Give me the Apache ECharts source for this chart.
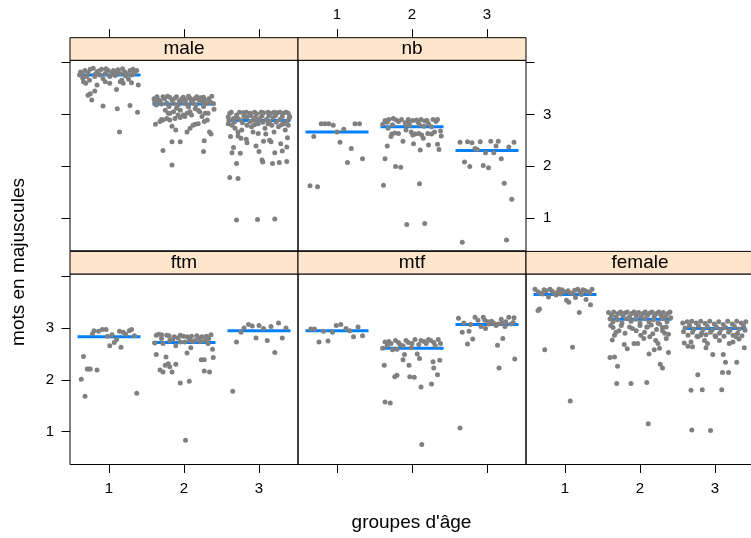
<!DOCTYPE html>
<html><head><meta charset="utf-8">
<script src="https://cdn.jsdelivr.net/npm/echarts@6/dist/echarts.min.js"></script>
<style>html,body{margin:0;padding:0;background:#fff}#c{width:751px;height:538px}</style>
</head><body><div id="c"></div>
<script>
const panelNames = ['male','nb','ftm','mtf','female'];
const categories = [1,2,3];
const yTicks = [1,2,3,4];
const yTickLabels = [1,2,3];
const xTicks = [1,2,3];
const xTitle = "groupes d'âge";
const yTitle = "mots en majuscules";

const meanMale = [3.76,3.20,2.88];
const meanNb = [2.66,2.76,2.30];
const meanFtm = [2.83,2.72,2.95];
const meanMtf = [2.95,2.61,3.07];
const meanFemale = [3.65,3.17,2.99];

// [horizontal jitter, value]
const male1 = [[-0.36,3.79],[-0.32,3.85],[-0.25,3.87],[-0.21,3.89],[-0.16,3.82],[-0.10,3.87],[-0.05,3.79],[-0.01,3.85],[0.06,3.85],[0.10,3.82],[0.15,3.79],[0.21,3.82],[0.28,3.85],[0.32,3.87],[0.37,3.85],[-0.39,3.76],[-0.30,3.73],[-0.19,3.73],[-0.12,3.76],[-0.08,3.69],[0.01,3.73],[0.17,3.66],[0.30,3.76],[-0.34,3.63],[-0.31,3.60],[-0.16,3.57],[-0.05,3.63],[0.01,3.60],[0.15,3.63],[0.19,3.60],[0.30,3.61],[0.39,3.57],[-0.25,3.40],[-0.19,3.45],[-0.23,3.28],[-0.28,3.37],[-0.08,3.16],[0.10,3.48],[0.11,3.11],[0.28,3.17],[0.38,3.04],[0.14,2.66],[-0.38,3.82],[-0.28,3.80],[-0.14,3.84],[0.04,3.80],[0.12,3.86],[0.24,3.78],[0.34,3.80],[-0.18,3.78],[0.08,3.75],[0.22,3.74],[-0.35,3.70],[-0.26,3.66],[0.26,3.68],[-0.04,3.88],[0.18,3.88]];
const male2 = [[-0.37,3.18],[-0.34,3.28],[-0.28,3.34],[-0.19,3.33],[-0.10,3.34],[-0.01,3.33],[0.08,3.31],[0.17,3.34],[0.26,3.33],[0.37,3.35],[0.39,3.21],[-0.39,3.24],[-0.23,3.22],[-0.14,3.21],[0.04,3.19],[0.12,3.22],[0.24,3.24],[0.30,3.21],[-0.25,3.08],[-0.19,3.02],[-0.21,3.02],[-0.14,3.05],[-0.05,3.08],[-0.01,2.99],[0.04,3.02],[0.08,3.05],[0.15,3.11],[0.19,3.08],[0.26,3.15],[0.28,3.02],[0.32,3.02],[0.40,3.10],[-0.38,2.81],[-0.32,2.86],[-0.28,2.89],[-0.23,2.92],[-0.19,2.89],[-0.16,2.77],[-0.12,2.92],[-0.11,2.70],[-0.05,2.94],[0.01,2.96],[0.04,2.66],[0.08,2.73],[0.12,2.79],[0.15,2.81],[0.19,2.82],[0.21,3.05],[0.27,2.86],[0.31,2.89],[0.34,2.66],[0.36,2.62],[0.27,2.49],[0.26,2.28],[-0.16,2.47],[-0.05,2.47],[-0.28,2.30],[-0.16,2.02],[-0.30,2.90],[-0.08,2.99],[0.10,2.99],[0.24,2.96],[-0.40,3.30],[-0.32,3.26],[-0.26,3.30],[-0.22,3.35],[-0.16,3.28],[-0.12,3.31],[-0.06,3.26],[-0.03,3.30],[0.02,3.28],[0.06,3.35],[0.10,3.26],[0.14,3.30],[0.20,3.28],[0.22,3.32],[0.28,3.27],[0.33,3.30],[0.35,3.24],[-0.36,3.34],[-0.30,3.20],[-0.08,3.18],[0.00,3.22],[0.16,3.18],[-0.20,3.15],[0.06,3.14],[-0.10,3.12]];
const male3 = [[-0.39,3.02],[-0.30,2.99],[-0.21,3.03],[-0.12,3.02],[-0.03,3.01],[0.06,3.03],[0.15,3.02],[0.24,3.03],[0.32,3.02],[0.39,3.02],[-0.34,2.92],[-0.25,2.89],[-0.16,2.95],[-0.08,2.89],[0.01,2.92],[0.10,2.90],[0.19,2.94],[0.28,2.90],[0.37,2.86],[-0.36,2.79],[-0.32,2.73],[-0.28,2.66],[-0.23,2.70],[-0.16,2.79],[-0.10,2.76],[-0.01,2.82],[0.08,2.73],[0.17,2.79],[0.26,2.76],[0.35,2.70],[0.39,2.79],[-0.38,2.57],[-0.34,2.36],[-0.36,2.26],[-0.28,2.58],[-0.24,2.54],[-0.17,2.52],[-0.16,2.45],[-0.08,2.66],[-0.04,2.39],[-0.01,2.63],[0.00,2.28],[0.06,2.48],[0.09,2.62],[0.14,2.50],[0.16,2.47],[0.20,2.66],[0.21,2.26],[0.29,2.43],[0.31,2.29],[0.38,2.55],[0.37,2.37],[-0.25,2.25],[-0.30,2.05],[0.04,2.12],[0.05,2.08],[0.18,2.05],[0.27,2.07],[0.37,2.09],[-0.39,1.78],[-0.28,1.76],[-0.30,0.96],[-0.02,0.97],[0.21,0.98],[-0.41,2.95],[-0.37,3.04],[-0.26,3.04],[-0.17,3.04],[-0.06,3.04],[0.03,3.04],[0.12,3.04],[0.20,3.04],[0.28,3.04],[0.36,3.04],[0.41,2.96],[-0.40,2.88],[-0.29,2.94],[-0.20,2.96],[-0.11,2.98],[-0.05,2.94],[0.04,2.97],[0.13,2.97],[0.22,2.98],[0.31,2.96],[0.40,2.92],[-0.33,2.85],[-0.22,2.84],[-0.12,2.86],[-0.03,2.87],[0.05,2.85],[0.14,2.86],[0.23,2.85],[0.33,2.82],[-0.41,2.82],[-0.06,2.80],[0.12,2.82],[0.30,2.80]];

const nb1 = [[-0.21,2.82],[-0.16,2.82],[-0.11,2.82],[-0.05,2.79],[0.00,2.66],[0.09,2.71],[0.24,2.82],[0.30,2.82],[-0.31,2.57],[0.04,2.46],[0.19,2.34],[0.14,2.07],[0.34,2.14],[-0.36,1.62],[-0.26,1.60]];
const nb2 = [[-0.39,2.81],[-0.36,2.88],[-0.31,2.90],[-0.25,2.92],[-0.21,2.89],[-0.14,2.90],[-0.09,2.84],[-0.04,2.86],[0.01,2.88],[0.06,2.89],[0.12,2.90],[0.17,2.87],[0.22,2.82],[0.28,2.90],[0.34,2.90],[-0.32,2.73],[-0.27,2.62],[-0.28,2.57],[-0.23,2.64],[-0.18,2.63],[-0.08,2.70],[-0.01,2.66],[0.04,2.62],[0.01,2.60],[0.09,2.63],[0.15,2.54],[0.13,2.60],[0.21,2.63],[0.26,2.62],[0.30,2.66],[0.38,2.68],[0.39,2.58],[-0.12,2.48],[0.02,2.43],[0.11,2.31],[0.22,2.41],[0.34,2.42],[0.36,2.32],[-0.33,2.39],[-0.36,2.14],[-0.22,1.99],[-0.15,1.98],[-0.38,1.63],[0.10,1.66],[-0.07,0.87],[0.17,0.89],[-0.08,2.79],[-0.03,2.79],[0.26,2.76],[0.16,2.77],[-0.33,2.85],[-0.18,2.86],[-0.05,2.90],[0.08,2.85],[0.20,2.88],[0.32,2.86],[-0.26,2.80],[0.10,2.80]];
const nb3 = [[-0.36,2.46],[-0.26,2.47],[-0.20,2.45],[-0.09,2.47],[0.05,2.48],[0.15,2.48],[0.36,2.46],[-0.16,2.34],[-0.13,2.32],[-0.02,2.26],[0.09,2.26],[0.12,2.39],[0.29,2.37],[-0.30,2.08],[-0.23,1.99],[-0.05,2.01],[0.02,1.97],[0.19,2.14],[0.23,1.67],[0.33,1.36],[-0.33,0.53],[0.26,0.57]];

const ftm1 = [[-0.22,2.89],[-0.20,2.95],[-0.14,2.94],[-0.09,2.97],[-0.04,2.97],[-0.02,2.84],[0.04,2.87],[0.10,2.78],[0.14,2.94],[0.19,2.92],[0.22,2.88],[0.27,2.95],[0.30,2.97],[0.34,2.85],[0.01,2.66],[0.07,2.72],[0.16,2.63],[-0.34,2.45],[-0.29,2.21],[-0.25,2.21],[-0.27,2.21],[-0.16,2.19],[-0.37,2.01],[-0.32,1.68],[0.37,1.74]];
const ftm2 = [[-0.37,2.86],[-0.34,2.88],[-0.30,2.87],[-0.23,2.86],[-0.13,2.83],[-0.08,2.81],[-0.01,2.84],[0.04,2.83],[0.10,2.84],[0.17,2.85],[0.24,2.83],[0.30,2.84],[0.36,2.87],[-0.39,2.71],[-0.28,2.70],[-0.19,2.76],[-0.11,2.66],[-0.05,2.73],[0.01,2.73],[0.08,2.76],[0.15,2.76],[0.22,2.74],[0.28,2.76],[0.32,2.70],[-0.37,2.49],[-0.24,2.44],[-0.32,2.19],[-0.28,2.15],[-0.25,2.28],[-0.21,2.31],[-0.19,2.25],[-0.16,2.15],[-0.11,2.30],[0.04,2.52],[0.09,2.62],[0.23,2.39],[0.27,2.39],[0.27,2.17],[0.34,2.15],[0.38,2.59],[0.39,2.43],[-0.05,1.94],[0.07,1.97],[0.02,0.83],[-0.20,2.85],[-0.05,2.86],[0.07,2.80],[0.20,2.81],[0.33,2.80],[-0.30,2.80],[0.12,2.74],[-0.15,2.78]];
const ftm3 = [[-0.24,2.92],[-0.20,3.00],[-0.14,3.07],[-0.09,3.04],[0.00,3.05],[0.06,2.99],[0.16,3.03],[0.26,3.10],[0.36,3.00],[-0.30,2.73],[-0.04,2.81],[0.11,2.76],[0.31,2.81],[0.21,2.53],[-0.35,1.78]];

const mtf1 = [[-0.35,2.98],[-0.30,2.98],[-0.18,2.94],[-0.06,2.92],[-0.01,3.05],[0.05,3.07],[0.12,2.99],[0.17,2.95],[0.28,3.02],[0.22,2.83],[0.34,2.85],[-0.24,2.73],[-0.12,2.75]];
const mtf2 = [[-0.36,2.73],[-0.31,2.74],[-0.22,2.76],[-0.16,2.68],[-0.08,2.76],[0.04,2.78],[0.16,2.74],[0.22,2.78],[0.35,2.78],[-0.39,2.61],[-0.33,2.66],[-0.26,2.58],[-0.20,2.59],[-0.12,2.66],[-0.01,2.62],[0.09,2.68],[0.19,2.70],[0.29,2.72],[0.38,2.70],[-0.10,2.49],[-0.12,2.39],[-0.04,2.28],[0.07,2.50],[0.10,2.41],[0.37,2.38],[0.28,2.35],[0.29,2.23],[0.34,2.10],[-0.37,2.28],[-0.23,2.06],[-0.20,2.09],[-0.03,2.06],[0.03,2.05],[0.12,1.86],[0.26,1.92],[-0.36,1.57],[-0.29,1.55],[0.13,0.75],[-0.28,2.70],[-0.05,2.72],[0.12,2.76],[0.25,2.76],[0.31,2.66],[-0.18,2.72],[0.00,2.70]];
const mtf3 = [[-0.38,3.19],[-0.31,3.10],[-0.22,3.07],[-0.16,3.21],[-0.12,3.15],[-0.05,3.21],[0.01,3.12],[0.06,3.13],[0.10,3.08],[0.19,3.17],[0.24,3.03],[0.29,3.21],[0.35,3.11],[-0.08,3.03],[-0.02,2.99],[0.15,3.08],[-0.33,2.92],[-0.24,2.94],[-0.19,2.79],[-0.26,2.69],[0.14,2.67],[0.21,2.80],[0.37,2.40],[0.16,2.23],[-0.36,1.07],[-0.03,3.15],[0.08,3.10],[0.20,3.10],[0.32,3.08],[0.25,3.12],[0.36,3.20],[0.12,3.05],[0.02,3.08]];

const female1 = [[-0.40,3.75],[-0.32,3.67],[-0.25,3.72],[-0.20,3.75],[-0.14,3.67],[-0.08,3.75],[-0.01,3.70],[0.10,3.67],[0.17,3.75],[0.24,3.74],[0.30,3.70],[0.36,3.75],[-0.22,3.60],[-0.12,3.64],[0.02,3.54],[0.05,3.50],[0.14,3.59],[0.28,3.55],[0.34,3.45],[0.19,3.30],[-0.36,3.34],[-0.34,3.37],[-0.27,2.58],[0.10,2.63],[0.07,1.59],[-0.36,3.70],[-0.28,3.74],[-0.17,3.71],[-0.10,3.69],[-0.04,3.74],[0.04,3.72],[0.07,3.68],[0.13,3.73],[0.20,3.69],[0.27,3.72],[0.33,3.68],[-0.30,3.66],[-0.06,3.66],[0.22,3.65]];
const female2 = [[-0.42,3.30],[-0.38,3.25],[-0.35,3.31],[-0.32,3.22],[-0.29,3.28],[-0.26,3.31],[-0.23,3.24],[-0.20,3.29],[-0.17,3.31],[-0.14,3.22],[-0.11,3.28],[-0.08,3.31],[-0.05,3.25],[-0.02,3.30],[0.01,3.22],[0.04,3.28],[0.07,3.31],[0.10,3.25],[0.13,3.29],[0.16,3.31],[0.19,3.23],[0.22,3.28],[0.25,3.31],[0.28,3.25],[0.31,3.30],[0.34,3.22],[0.37,3.28],[0.40,3.31],[0.41,3.20],[-0.40,3.18],[-0.30,3.16],[-0.18,3.18],[-0.06,3.17],[0.06,3.18],[0.18,3.16],[0.30,3.18],[-0.36,3.12],[-0.24,3.10],[-0.12,3.13],[0.00,3.10],[0.12,3.12],[0.24,3.10],[0.36,3.12],[-0.39,3.05],[-0.10,2.99],[0.10,3.02],[0.30,3.01],[-0.36,3.01],[-0.32,2.92],[-0.34,2.86],[-0.37,2.77],[-0.28,2.95],[-0.21,2.68],[-0.17,2.60],[-0.14,3.02],[-0.08,2.70],[-0.03,2.70],[0.01,2.86],[0.06,2.92],[0.09,3.02],[0.13,2.83],[0.17,2.89],[0.21,2.76],[0.24,2.70],[0.26,3.08],[0.30,2.95],[0.35,3.02],[0.38,2.88],[0.19,2.58],[0.26,2.61],[0.12,2.50],[0.38,2.53],[-0.40,2.43],[-0.34,2.44],[-0.30,2.26],[0.27,2.30],[0.30,2.23],[-0.31,1.93],[-0.12,1.93],[0.09,1.95],[0.11,1.15],[-0.25,3.05],[0.00,3.05],[0.15,3.06],[-0.05,2.95],[0.22,2.97],[0.33,2.90],[-0.20,2.90],[0.05,2.80],[0.35,2.80]];
const female3 = [[-0.43,3.10],[-0.40,3.00],[-0.37,3.12],[-0.34,3.05],[-0.31,3.13],[-0.28,2.98],[-0.25,3.10],[-0.22,3.04],[-0.19,3.13],[-0.16,2.97],[-0.13,3.09],[-0.10,3.03],[-0.07,3.13],[-0.04,2.96],[-0.01,3.08],[0.02,3.02],[0.05,3.12],[0.08,2.97],[0.11,3.07],[0.14,3.01],[0.17,3.13],[0.20,2.96],[0.23,3.08],[0.26,3.03],[0.29,3.13],[0.32,2.98],[0.35,3.10],[0.38,3.04],[0.41,3.12],[0.40,2.96],[-0.42,2.93],[-0.30,2.92],[-0.18,2.90],[-0.06,2.92],[0.06,2.90],[0.18,2.92],[0.30,2.90],[-0.36,2.86],[-0.24,2.84],[-0.12,2.87],[0.00,2.85],[0.12,2.84],[0.24,2.86],[0.36,2.85],[-0.41,2.71],[-0.36,2.65],[-0.32,2.73],[-0.30,2.64],[-0.23,2.83],[-0.19,2.86],[-0.14,2.76],[-0.12,2.62],[-0.10,2.70],[-0.03,2.49],[0.01,2.83],[0.06,2.76],[0.11,2.49],[0.14,2.34],[0.19,2.70],[0.24,2.73],[0.28,2.83],[0.32,2.79],[0.39,2.62],[0.29,2.34],[-0.23,2.10],[0.10,2.14],[0.18,2.14],[-0.32,1.80],[-0.17,1.81],[0.09,1.81],[-0.31,1.03],[-0.06,1.02]];

const panelPoints = [[male1,male2,male3],[nb1,nb2,nb3],[ftm1,ftm2,ftm3],[mtf1,mtf2,mtf3],[female1,female2,female3]];
const panelMeans = [meanMale,meanNb,meanFtm,meanMtf,meanFemale];

// ---- layout ----
const FONT = '"Liberation Sans", Arial, Helvetica, sans-serif';
const PW = 228, PH = 190.5, STRIP = 22.6;
const pos = [[70,60.3],[298,60.3],[70,274],[298,274],[526,274]];
const XMIN = 0.48, XMAX = 3.52, YMIN = 0.363, YMAX = 4.045;
const HALF = 0.42;
const tickStyle = {lineStyle:{color:'#000',width:1}, length:8.5, inside:false};
const labelStyle = {color:'#000', fontFamily:FONT, fontSize:15};

const roles = [
  {xPos:'top', xTick:true, xLab:false, yPos:'left', yTick:true, yLab:false},
  {xPos:'top', xTick:true, xLab:true, yPos:'right', yTick:true, yLab:true},
  {xPos:'bottom', xTick:true, xLab:true, yPos:'left', yTick:true, yLab:true},
  {xPos:'bottom', xTick:true, xLab:false, yPos:'left', yTick:false, yLab:false},
  {xPos:'bottom', xTick:true, xLab:true, yPos:'right', yTick:false, yLab:false}
];

const grid=[], xAxis=[], yAxis=[], series=[], graphic=[];
panelNames.forEach((name,i)=>{
  const [l,t] = pos[i]; const r = roles[i];
  grid.push({left:l, top:t, width:PW, height:PH, show:false, containLabel:false, outerBoundsMode:'none'});
  xAxis.push({type:'value', gridIndex:i, min:XMIN, max:XMAX, position:r.xPos, offset: r.xPos==='top'?STRIP:0,
    axisLine:{show:false}, splitLine:{show:false},
    axisTick:Object.assign({show:r.xTick, customValues:xTicks}, tickStyle),
    axisLabel:Object.assign({show:r.xLab, customValues:xTicks, margin: r.xPos==='top'?15:17}, labelStyle)});
  yAxis.push({type:'value', gridIndex:i, min:YMIN, max:YMAX, position:r.yPos,
    axisLine:{show:false}, splitLine:{show:false},
    axisTick:Object.assign({show:r.yTick, customValues:yTicks}, tickStyle),
    axisLabel:Object.assign({show:r.yLab, customValues:yTickLabels, margin:r.yPos==='left'?16:17}, labelStyle)});
  categories.forEach((c,k)=>{
    series.push({type:'line', xAxisIndex:i, yAxisIndex:i, z:2, silent:true, symbol:'none', animation:false,
      lineStyle:{color:'#0080FF', width:3, cap:'butt'},
      data:[[c-HALF, panelMeans[i][k]],[c+HALF, panelMeans[i][k]]]});
  });
  const data=[];
  categories.forEach((c,k)=>{ panelPoints[i][k].forEach(p=>data.push([c+p[0], p[1]])); });
  series.push({type:'scatter', xAxisIndex:i, yAxisIndex:i, z:3, silent:true, animation:false, symbol:'circle', symbolSize:5,
    itemStyle:{color:'#808080', opacity:1}, data});
  // panel box
  graphic.push({type:'rect', z:9, silent:true, shape:{x:l, y:t, width:PW, height:PH},
    style:{fill:null, stroke:'#000', lineWidth:1}});
  // strip
  graphic.push({type:'rect', z:10, shape:{x:l, y:t-STRIP, width:PW, height:STRIP},
    style:{fill:'#FFE5CC', stroke:'#000', lineWidth:1}});
  graphic.push({type:'text', z:11, x:l+PW/2, y:t-STRIP/2,
    style:{text:name, fill:'#000', font:'19px '+FONT, textAlign:'center', textVerticalAlign:'middle'}});
});
graphic.push({type:'text', x:411.5, y:523, style:{text:xTitle, fill:'#000', font:'19px '+FONT, textAlign:'center', textVerticalAlign:'middle'}});
graphic.push({type:'text', x:19, y:262, rotation:Math.PI/2, style:{text:yTitle, fill:'#000', font:'19px '+FONT, textAlign:'center', textVerticalAlign:'middle'}});

const chart = echarts.init(document.getElementById('c'), null, {renderer:'canvas'});
chart.setOption({animation:false, backgroundColor:'#fff', grid, xAxis, yAxis, series, graphic});
</script></body></html>
